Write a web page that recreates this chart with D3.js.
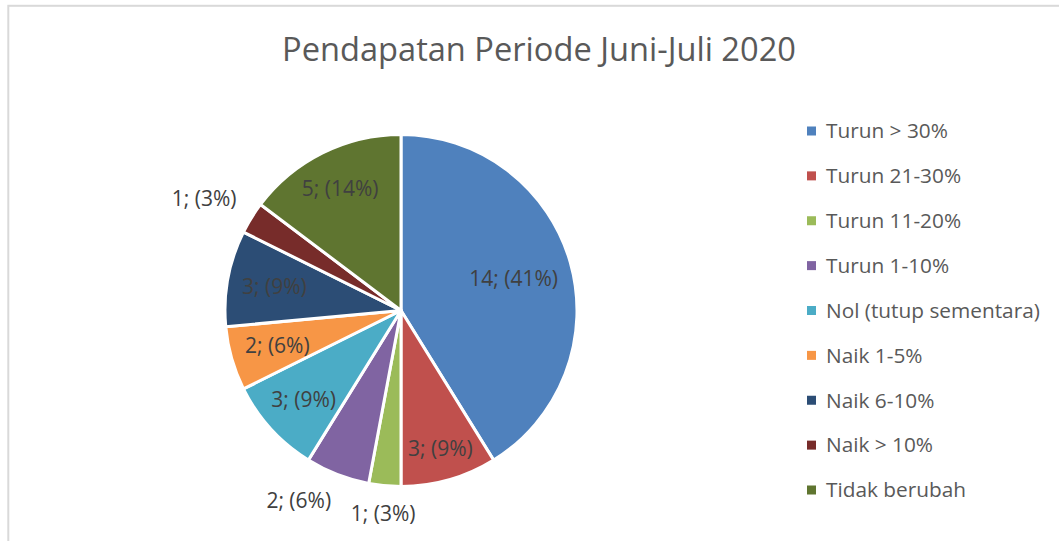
<!DOCTYPE html>
<html>
<head>
<meta charset="utf-8">
<script src="https://cdn.jsdelivr.net/npm/d3@7"></script>
<style>
  body { margin: 0; background: #fff; }
  svg { display: block; }
  text { font-family: "Open Sans", "Noto Sans", sans-serif; }
</style>
</head>
<body>
<svg id="chart" width="1059" height="541"></svg>
<script>
var chartTitle = "Pendapatan Periode Juni-Juli 2020";
var categories = ["Turun > 30%", "Turun 21-30%", "Turun 11-20%", "Turun 1-10%",
  "Nol (tutup sementara)", "Naik 1-5%", "Naik 6-10%", "Naik > 10%", "Tidak berubah"];
var counts = [14, 3, 1, 2, 3, 2, 3, 1, 5];
var percentLabels = ["41%", "9%", "3%", "6%", "9%", "6%", "9%", "3%", "14%"];
var colors = ["#4f81bd", "#c0504d", "#9bbb59", "#8064a2", "#4bacc6",
  "#f79646", "#2c4d75", "#772c2a", "#5f7530"];

var svg = d3.select("#chart");

// light frame of the chart area
svg.append("rect")
  .attr("x", 8.3).attr("y", 5.8)
  .attr("width", 1200).attr("height", 700)
  .attr("fill", "none")
  .attr("stroke", "#d9d9d9")
  .attr("stroke-width", 2);

// title, scaled to the width it has in the picture
var title = svg.append("text")
  .attr("x", 539).attr("y", 61)
  .attr("text-anchor", "middle")
  .attr("fill", "#595959")
  .style("font-size", "30px")
  .text(chartTitle);
var tw = title.node().getComputedTextLength();
title.style("font-size", (30 * 514 / tw) + "px");

///////////////////////////////////////////////////////////////////////////////
// Pie

var cx = 401, cy = 310.5, R = 176;
var color = d3.scaleOrdinal().domain(categories).range(colors);

var pie = d3.pie().sort(null).value(function (d) { return d; });
var arcs = pie(counts);
var arc = d3.arc().innerRadius(0).outerRadius(R);

var g = svg.append("g").attr("transform", "translate(" + cx + "," + cy + ")");

g.selectAll("path.slice")
  .data(arcs)
  .enter().append("path")
  .attr("class", "slice")
  .attr("d", arc)
  .attr("fill", function (d, i) { return color(categories[i]); })
  .attr("stroke", "#fff")
  .attr("stroke-width", 3)
  .attr("stroke-linejoin", "round");

// data labels: inside when the glyphs fit the slice, otherwise outside end
var Rv = R - 1.5, half = 10;
var labels = g.selectAll("text.lbl")
  .data(arcs)
  .enter().append("text")
  .attr("class", "lbl")
  .attr("fill", "#404040")
  .attr("dy", "0.35em")
  .style("font-size", "21px")
  .text(function (d, i) { return counts[i] + "; (" + percentLabels[i] + ")"; });

var angleOf = function (x, y) {
  var a = Math.atan2(x, -y);
  return a < 0 ? a + 2 * Math.PI : a;
};

labels.each(function (d) {
  var t = d3.select(this);
  var w = this.getComputedTextLength();
  var mid = (d.startAngle + d.endAngle) / 2;
  var sx = Math.sin(mid), sy = -Math.cos(mid);
  var ext = Math.abs(sx) * w / 2 + Math.abs(sy) * half;
  var r = Rv - 12 - ext;
  var x = r * sx, y = r * sy;
  // glyph box a little tighter than the text box
  var bw = w / 2 - 4, bh = 7;
  var fits = [[-1, -1], [1, -1], [-1, 1], [1, 1]].every(function (c) {
    var px = x + c[0] * bw, py = y + c[1] * bh;
    var a = angleOf(px, py);
    return a > d.startAngle + 0.005 && a < d.endAngle - 0.005 &&
      Math.sqrt(px * px + py * py) < Rv;
  });
  if (fits) {
    t.attr("x", x).attr("y", y).attr("text-anchor", "middle");
    return;
  }
  var pr = Rv + 19;
  var px = pr * sx, py = pr * sy;
  var anchor = "middle";
  if (Math.abs(sx) >= 0.25) anchor = sx < 0 ? "end" : "start";
  var ly = py;
  if (Math.abs(sy) >= 0.25) ly = sy > 0 ? py + half : py - half;
  t.attr("x", px).attr("y", ly).attr("text-anchor", anchor);
});

///////////////////////////////////////////////////////////////////////////////
// Legend

var legendY = d3.scalePoint().domain(categories).range([131, 490]);

var legend = svg.append("g").selectAll("g")
  .data(categories)
  .enter().append("g")
  .attr("transform", function (d) { return "translate(807," + legendY(d) + ")"; });

legend.append("rect")
  .attr("x", 0).attr("y", -4.5)
  .attr("width", 9).attr("height", 9)
  .attr("fill", function (d) { return color(d); });

legend.append("text")
  .attr("x", 19)
  .attr("dy", "0.35em")
  .attr("fill", "#595959")
  .style("font-size", "20.8px")
  .text(function (d) { return d; });
</script>
</body>
</html>
